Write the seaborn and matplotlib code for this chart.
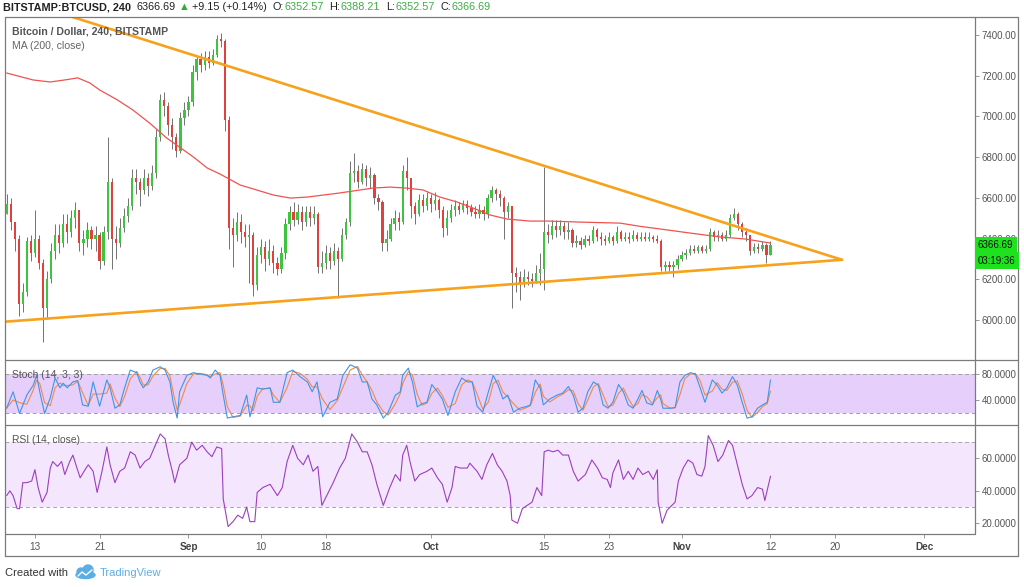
import numpy as np
import pandas as pd
import matplotlib
matplotlib.use("Agg")
import matplotlib.pyplot as plt
import matplotlib.transforms as mtransforms
from matplotlib.lines import Line2D
from matplotlib.patches import Ellipse, Circle
import seaborn as sns

# ---------------- DATA ----------------
# 12-hour candles, days counted from 13 Aug 2018; first candle 9 Aug 12:00
start_day = -3.5
first_open = 6520
close = [6570, 6480, 6400, 6080, 6140, 6390, 6330, 6400, 6280, 6060,
         6200, 6340, 6420, 6380, 6470, 6430, 6500, 6540, 6380, 6400,
         6440, 6400, 6420, 6290, 6430, 6680, 6400, 6380, 6450, 6510,
         6560, 6700, 6680, 6640, 6700, 6660, 6720, 6900, 7080, 7050,
         6960, 6900, 6830, 6990, 7030, 7070, 7220, 7280, 7250, 7290,
         7260, 7300, 7380, 7370, 6980, 6450, 6420, 6480, 6430, 6410,
         6420, 6170, 6320, 6360, 6300, 6340, 6280, 6250, 6330, 6470,
         6530, 6490, 6530, 6480, 6530, 6500, 6520, 6260, 6280, 6330,
         6290, 6340, 6300, 6420, 6480, 6720, 6730, 6680, 6740, 6700,
         6710, 6600, 6580, 6380, 6400, 6470, 6500, 6480, 6730, 6700,
         6560, 6520, 6590, 6560, 6600, 6570, 6590, 6540, 6450, 6500,
         6540, 6560, 6540, 6570, 6550, 6530, 6520, 6540, 6520, 6600,
         6640, 6620, 6600, 6530, 6560, 6230, 6210, 6180, 6210, 6200,
         6190, 6230, 6250, 6430, 6420, 6460, 6440, 6460, 6430, 6440,
         6380, 6390, 6370, 6400, 6390, 6440, 6410, 6400, 6390, 6410,
         6390, 6430, 6400, 6410, 6400, 6420, 6400, 6410, 6400, 6410,
         6400, 6390, 6260, 6270, 6260, 6270, 6300, 6320, 6330, 6350,
         6340, 6360, 6340, 6350, 6430, 6410, 6420, 6400, 6420, 6500,
         6520, 6470, 6430, 6420, 6340, 6360, 6350, 6370, 6320, 6366.69]
high = [6620, 6600, 6480, 6420, 6180, 6410, 6420, 6540, 6420, 6300,
        6240, 6380, 6470, 6470, 6520, 6520, 6540, 6580, 6540, 6440,
        6480, 6460, 6460, 6430, 6460, 6900, 6700, 6460, 6500, 6550,
        6600, 6740, 6740, 6700, 6740, 6720, 6760, 6940, 7110, 7120,
        7070, 6990, 6920, 7020, 7070, 7100, 7250, 7300, 7310, 7320,
        7320, 7330, 7400, 7410, 7380, 7000, 6500, 6530, 6520, 6470,
        6470, 6430, 6360, 6400, 6390, 6400, 6370, 6310, 6360, 6500,
        6560, 6580, 6570, 6560, 6560, 6560, 6560, 6530, 6340, 6370,
        6360, 6380, 6360, 6450, 6500, 6780, 6820, 6760, 6770, 6760,
        6750, 6720, 6620, 6590, 6440, 6500, 6540, 6530, 6760, 6800,
        6700, 6580, 6620, 6620, 6630, 6620, 6630, 6600, 6560, 6540,
        6570, 6590, 6580, 6590, 6590, 6570, 6560, 6570, 6560, 6620,
        6660, 6650, 6640, 6610, 6580, 6560, 6260, 6240, 6250, 6240,
        6230, 6270, 6330, 6750, 6470, 6490, 6490, 6490, 6480, 6480,
        6450, 6420, 6410, 6420, 6420, 6460, 6450, 6430, 6420, 6430,
        6420, 6460, 6440, 6430, 6430, 6440, 6430, 6430, 6430, 6430,
        6420, 6420, 6400, 6290, 6290, 6290, 6320, 6340, 6350, 6370,
        6370, 6370, 6370, 6370, 6450, 6440, 6440, 6430, 6440, 6520,
        6550, 6530, 6480, 6450, 6420, 6380, 6380, 6390, 6380, 6388.21]
low = [6520, 6440, 6340, 6020, 6040, 6120, 6290, 6310, 6250, 5890,
       6010, 6180, 6300, 6330, 6360, 6380, 6410, 6450, 6340, 6320,
       6360, 6350, 6340, 6250, 6270, 6400, 6250, 6300, 6360, 6430,
       6480, 6540, 6620, 6560, 6620, 6610, 6640, 6700, 6880, 7000,
       6910, 6840, 6800, 6820, 6960, 7000, 7050, 7180, 7220, 7230,
       7240, 7250, 7290, 7340, 6930, 6350, 6260, 6390, 6380, 6360,
       6180, 6120, 6150, 6280, 6240, 6270, 6230, 6220, 6230, 6300,
       6440, 6460, 6470, 6440, 6460, 6460, 6470, 6230, 6230, 6250,
       6250, 6270, 6110, 6290, 6400, 6460, 6680, 6650, 6670, 6660,
       6650, 6570, 6540, 6340, 6340, 6390, 6440, 6440, 6470, 6640,
       6500, 6470, 6510, 6530, 6540, 6530, 6540, 6500, 6410, 6420,
       6480, 6510, 6520, 6530, 6520, 6510, 6500, 6500, 6490, 6500,
       6580, 6590, 6560, 6400, 6500, 6060, 6140, 6100, 6160, 6170,
       6160, 6180, 6170, 6150, 6380, 6400, 6410, 6420, 6400, 6400,
       6360, 6360, 6350, 6360, 6370, 6380, 6390, 6370, 6370, 6380,
       6370, 6380, 6390, 6390, 6380, 6390, 6390, 6390, 6390, 6390,
       6385, 6380, 6240, 6240, 6240, 6210, 6250, 6290, 6300, 6320,
       6330, 6330, 6330, 6330, 6340, 6390, 6390, 6390, 6390, 6410,
       6490, 6440, 6410, 6390, 6320, 6330, 6330, 6340, 6280, 6352.57]

# MA (200, close)
ma_day = [-3.5, -0.25, 1.9, 3.7, 5.3, 6.8, 8.0, 10.2, 12.1, 14.2, 16.3, 19.6, 21.3,
          22.9, 25.4, 29.5, 31.6, 33.7, 37.7, 41.8, 43.9, 46.0, 48.0, 50.1, 52.2,
          54.2, 56.3, 58.4, 61.3, 63.7, 67.5, 72.4, 74.9, 77.4, 81.1, 84.8, 87.9, 91.0]
ma_val = [7213, 7179, 7169, 7179, 7189, 7164, 7130, 7081, 7032, 6967, 6894, 6801, 6747,
          6717, 6663, 6614, 6599, 6604, 6624, 6648, 6653, 6648, 6639, 6604, 6580,
          6550, 6516, 6496, 6486, 6486, 6481, 6476, 6460, 6447, 6427, 6408, 6398, 6378]

# triangle trend lines (day, price)
upper_tl_day = [2.0, 99.84]
upper_tl_price = [7521, 6296]
lower_tl_day = [-3.71, 99.84]
lower_tl_price = [5992, 6296]

# Stoch (14, 3, 3) %K
stoch_day = [-3.5, -2.7, -1.9, -1.0, -0.2, 0.2, 0.6, 1.2, 1.9, 2.5,
             3.1, 3.5, 4.0, 4.7, 5.3, 5.9, 6.6, 7.2, 8.0, 8.9,
             9.3, 9.9, 10.5, 11.1, 11.8, 12.6, 13.0, 13.4, 14.0, 14.6,
             15.5, 16.1, 16.7, 17.1, 17.6, 17.9, 18.8, 19.6, 20.4, 21.3,
             21.7, 22.3, 22.9, 23.3, 23.8, 24.5, 25.4, 26.2, 26.6, 27.0,
             27.5, 28.2, 29.1, 29.5, 30.3, 31.2, 31.9, 32.8, 33.7, 34.3,
             34.9, 35.6, 36.5, 37.4, 38.1, 39.0, 39.9, 40.5, 41.1, 41.7,
             42.3, 43.1, 43.7, 44.6, 45.2, 45.5, 46.2, 46.7, 47.3, 47.9,
             48.5, 49.1, 49.8, 50.4, 51.1, 52.0, 52.8, 53.5, 54.1, 54.7,
             55.4, 56.1, 56.7, 57.3, 57.9, 58.5, 59.2, 60.0, 60.9, 61.3,
             61.9, 62.5, 62.9, 63.7, 64.6, 65.3, 66.0, 66.6, 67.2, 67.8,
             68.4, 69.1, 69.7, 70.3, 70.9, 71.5, 72.2, 72.8, 73.4, 74.0,
             74.6, 75.1, 75.7, 76.4, 77.0, 77.4, 77.7, 78.6, 79.2, 79.8,
             80.4, 81.1, 81.7, 82.3, 82.9, 83.8, 84.4, 85.0, 85.6, 86.3,
             86.9, 87.5, 88.1, 88.7, 89.4, 90.0, 90.6, 91.0]
stoch_k = [28, 53, 20, 48, 63, 78, 53, 20, 44, 74,
           59, 66, 59, 68, 70, 33, 31, 68, 31, 71,
           59, 28, 33, 59, 86, 82, 68, 59, 68, 86,
           91, 86, 68, 37, 13, 53, 78, 82, 80, 78,
           74, 86, 78, 48, 13, 15, 17, 48, 15, 33,
           59, 57, 59, 37, 37, 82, 86, 76, 68, 53,
           68, 15, 37, 42, 78, 94, 89, 68, 68, 42,
           33, 13, 22, 48, 53, 78, 89, 68, 30, 35,
           37, 64, 53, 42, 17, 53, 74, 68, 68, 31,
           22, 53, 78, 63, 42, 48, 22, 28, 31, 33,
           71, 59, 33, 42, 48, 51, 61, 48, 22, 28,
           53, 68, 63, 33, 28, 37, 64, 53, 33, 28,
           42, 55, 36, 33, 55, 42, 28, 28, 29, 68,
           78, 82, 80, 59, 37, 71, 63, 51, 59, 76,
           63, 37, 13, 15, 28, 33, 37, 71]

# RSI (14, close)
rsi_day = [-3.5, -3.1, -2.7, -2.2, -1.9, -1.5, -1.0, -0.4, 0.0, 0.4,
           0.9, 1.5, 1.9, 2.2, 2.8, 3.3, 3.7, 4.3, 4.7, 5.2,
           5.6, 6.2, 6.6, 7.2, 7.7, 8.3, 8.9, 9.3, 9.9, 10.5,
           11.1, 11.8, 12.4, 13.0, 13.6, 14.2, 14.9, 15.5, 16.1, 16.5,
           17.0, 17.3, 17.9, 18.8, 19.4, 20.0, 20.7, 21.3, 21.9, 22.5,
           23.1, 23.3, 23.9, 24.5, 25.1, 25.7, 26.2, 26.6, 27.2, 27.5,
           28.2, 29.1, 30.0, 30.6, 31.2, 31.9, 32.5, 33.2, 33.8, 34.4,
           35.0, 35.5, 36.1, 36.9, 37.7, 38.4, 39.2, 39.9, 40.5, 41.1,
           41.7, 42.3, 43.1, 43.9, 44.6, 45.2, 45.5, 46.0, 46.4, 47.0,
           47.6, 48.5, 49.1, 49.8, 50.4, 51.0, 51.6, 52.0, 52.6, 53.5,
           53.8, 54.7, 55.3, 55.9, 56.6, 57.2, 57.8, 58.4, 58.8, 59.0,
           59.7, 60.3, 60.9, 61.5, 62.1, 62.7, 63.0, 63.5, 64.1, 64.7,
           65.3, 66.0, 66.6, 67.2, 68.1, 68.9, 69.6, 70.2, 70.8, 71.2,
           71.5, 72.2, 72.8, 73.4, 74.0, 74.6, 75.2, 75.9, 76.5, 77.0,
           77.1, 77.6, 78.2, 78.8, 79.2, 79.6, 80.2, 80.8, 81.4, 81.9,
           82.5, 82.9, 83.3, 83.9, 84.5, 85.1, 85.8, 86.3, 86.9, 87.5,
           88.1, 88.7, 89.4, 90.0, 90.3, 91.0]
rsi_val = [37, 40, 37, 29, 29, 45, 45, 46, 53, 42,
           33, 39, 54, 58, 55, 58, 50, 58, 62, 54,
           48, 53, 56, 52, 39, 52, 67, 56, 45, 52,
           54, 64, 62, 54, 58, 60, 68, 75, 72, 62,
           52, 45, 56, 60, 70, 65, 68, 64, 61, 67,
           66, 35, 18, 21, 25, 23, 30, 21, 21, 39,
           42, 44, 37, 42, 58, 68, 60, 56, 62, 52,
           55, 31, 37, 45, 54, 60, 75, 70, 64, 64,
           56, 44, 31, 42, 50, 46, 62, 68, 58, 46,
           50, 52, 54, 48, 44, 33, 42, 55, 54, 54,
           57, 52, 47, 56, 63, 56, 52, 46, 37, 22,
           20, 29, 31, 33, 42, 37, 64, 65, 64, 65,
           62, 62, 52, 46, 50, 59, 54, 48, 47, 42,
           51, 59, 47, 52, 47, 54, 50, 52, 47, 53,
           33, 20, 28, 31, 33, 46, 54, 59, 57, 50,
           49, 55, 74, 68, 58, 62, 71, 68, 56, 44,
           35, 37, 42, 41, 34, 49]

price_ticks = [6000, 6200, 6400, 6600, 6800, 7000, 7200, 7400]
stoch_ticks = [40, 80]
rsi_ticks = [20, 40, 60]
date_tick_days = [0, 8, 19, 28, 36, 49, 63, 71, 80, 91, 99, 110]
date_tick_labels = ["13", "21", "Sep", "10", "18", "Oct", "15", "23", "Nov", "12", "20", "Dec"]
month_labels = ["Sep", "Oct", "Nov", "Dec"]
header_change = "+9.15 (+0.14%)"
header_open, header_high, header_low = 6352.57, 6388.21, 6352.57
countdown = "03:19:36"

# ---------------- STYLE ----------------
sns.set_theme(style="white")
plt.rcParams["font.family"] = ["Liberation Sans", "DejaVu Sans"]

W, H = 1024, 587
fig = plt.figure(figsize=(W / 100, H / 100), dpi=100)
fig.patch.set_facecolor("white")


def fx(x):
    return x / W


def fy(y):
    return 1 - y / H


XL, XR = 5, 975
ax_main = fig.add_axes([fx(XL), fy(360), fx(XR) - fx(XL), fy(17) - fy(360)])
ax_st = fig.add_axes([fx(XL), fy(425), fx(XR) - fx(XL), fy(360) - fy(425)])
ax_rsi = fig.add_axes([fx(XL), fy(534), fx(XR) - fx(XL), fy(425) - fy(534)])

GRAY_TXT = "#555555"
for ax in (ax_main, ax_st, ax_rsi):
    ax.set_facecolor("white")
    ax.set_xlim(-3.7, 116.3)
    for s in ax.spines.values():
        s.set_visible(False)
    ax.yaxis.tick_right()
    ax.tick_params(axis="y", which="both", right=True, left=False, length=3,
                   width=0.6, color="#888888", labelsize=7, labelcolor=GRAY_TXT, pad=2)
    ax.grid(False)

# ---------------- MAIN: candles ----------------
c = np.array(close, dtype=float)
o = np.concatenate([[first_open], c[:-1]])
h = np.maximum(np.array(high, dtype=float), np.maximum(o, c))
l = np.minimum(np.array(low, dtype=float), np.minimum(o, c))
t = start_day + 0.5 * np.arange(len(c))
up = c >= o
body_col = np.where(up, "#3fc43f", "#e2403a")
body_h = np.maximum(np.abs(c - o), 4)
ax_main.vlines(t, l, h, color="#5c5c5c", lw=0.6, zorder=2)
ax_main.bar(t, body_h, bottom=np.minimum(o, c), width=0.28, color=body_col,
            linewidth=0, zorder=3)

sns.lineplot(x=ma_day, y=ma_val, ax=ax_main, color="#ef5350", lw=0.9,
             sort=False, estimator=None, zorder=4)
sns.lineplot(x=upper_tl_day, y=upper_tl_price, ax=ax_main, color="#f7a21c",
             lw=1.9, sort=False, estimator=None, zorder=5)
sns.lineplot(x=lower_tl_day, y=lower_tl_price, ax=ax_main, color="#f7a21c",
             lw=1.9, sort=False, estimator=None, zorder=5)

ax_main.set_ylim(5804, 7488)
ax_main.set_yticks(price_ticks)
ax_main.set_yticklabels([f"{v:.2f}" for v in price_ticks])
ax_main.set_xticks([])
ax_main.set_xlabel("")
ax_main.set_ylabel("")

# ---------------- STOCH ----------------
ax_st.axhspan(20, 80, color="#e7cffb", lw=0, zorder=0)
for lev in (20, 80):
    ax_st.axhline(lev, color="#9e9e9e", lw=0.7, ls=(0, (4, 3)), zorder=1)
stoch_d = pd.Series(stoch_k, dtype=float).rolling(2, min_periods=1).mean()
sns.lineplot(x=stoch_day, y=stoch_k, ax=ax_st, color="#3d95e6", lw=0.8,
             sort=False, estimator=None, zorder=3)
sns.lineplot(x=stoch_day, y=stoch_d.values, ax=ax_st, color="#f08a4b", lw=0.8,
             sort=False, estimator=None, zorder=2)
ax_st.set_ylim(2.5, 101.3)
ax_st.set_yticks(stoch_ticks)
ax_st.set_yticklabels([f"{v:.4f}" for v in stoch_ticks])
ax_st.set_xticks([])
ax_st.set_xlabel("")
ax_st.set_ylabel("")

# ---------------- RSI ----------------
ax_rsi.axhspan(30, 70, color="#f4e6fd", lw=0, zorder=0)
for lev in (30, 70):
    ax_rsi.axhline(lev, color="#a8a8a8", lw=0.7, ls=(0, (4, 3)), zorder=1)
sns.lineplot(x=rsi_day, y=rsi_val, ax=ax_rsi, color="#9c3fbf", lw=0.8,
             sort=False, estimator=None, zorder=3)
ax_rsi.set_ylim(13.4, 80.5)
ax_rsi.set_yticks(rsi_ticks)
ax_rsi.set_yticklabels([f"{v:.4f}" for v in rsi_ticks])
ax_rsi.set_xticks(date_tick_days)
ax_rsi.set_xticklabels(date_tick_labels)
ax_rsi.tick_params(axis="x", bottom=True, length=3, width=0.6, color="#888888",
                   labelsize=7.2, labelcolor=GRAY_TXT, pad=3)
for lab in ax_rsi.get_xticklabels():
    if lab.get_text() in month_labels:
        lab.set_fontweight("bold")
        lab.set_color("#444444")
ax_rsi.set_xlabel("")
ax_rsi.set_ylabel("")

# ---------------- FRAME ----------------
FR = "#7b7b7b"


def fline(x0, y0, x1, y1, lw=0.9):
    fig.add_artist(Line2D([fx(x0), fx(x1)], [fy(y0), fy(y1)], transform=fig.transFigure,
                          color=FR, lw=lw, zorder=6))


fline(5, 17, 1018, 17)
fline(5, 17, 5, 556)
fline(1018, 17, 1018, 556)
fline(5, 556, 1018, 556)
fline(5, 360, 1018, 360)
fline(5, 425, 1018, 425)
fline(5, 534, 975, 534)
fline(975, 17, 975, 534)

# ---------------- LABELS ----------------
fig.text(fx(12), fy(31), "Bitcoin / Dollar, 240, BITSTAMP", fontsize=7.6, fontweight="bold",
         color=GRAY_TXT, va="center", ha="left")
fig.text(fx(12), fy(46), "MA (200, close)", fontsize=7.6, color="#666666", va="center", ha="left")
fig.text(fx(12), fy(375), "Stoch (14, 3, 3)", fontsize=7.5, color=GRAY_TXT, va="center", ha="left")
fig.text(fx(12), fy(440), "RSI (14, close)", fontsize=7.4, color=GRAY_TXT, va="center", ha="left")

# header line
green = "#3cae43"
HS = 7.8
pieces = [("BITSTAMP:BTCUSD, 240", "#222222", "bold", 0),
          (f"{close[-1]:.2f}", "#222222", "normal", 4),
          ("\u25B2", "#2fae2f", "normal", 2),
          (header_change, "#222222", "normal", 2),
          ("O:", "#222222", "normal", 4),
          (f"{header_open:.2f}", green, "normal", 0.4),
          ("H:", "#222222", "normal", 4),
          (f"{header_high:.2f}", green, "normal", 0.4),
          ("L:", "#222222", "normal", 4),
          (f"{header_low:.2f}", green, "normal", 0.4),
          ("C:", "#222222", "normal", 4),
          (f"{close[-1]:.2f}", green, "normal", 0.4)]
prev = None
for txt, col, wt, gap in pieces:
    if prev is None:
        prev = fig.text(fx(3), fy(12.5), txt, fontsize=HS, color=col, fontweight=wt,
                        ha="left", va="bottom")
    else:
        prev = ax_main.annotate(txt, xy=(1, 0), xycoords=prev, xytext=(gap, 0),
                                textcoords="offset points", fontsize=HS, color=col,
                                fontweight=wt, ha="left", va="bottom", annotation_clip=False)

# last price / countdown box on the price scale
blend = mtransforms.blended_transform_factory(fig.transFigure, ax_main.transData)
fig.text(fx(978), close[-1], f"{close[-1]:.2f}", transform=blend, fontsize=7, color="#111111",
         ha="left", va="center", zorder=10,
         bbox=dict(boxstyle="square,pad=0.35", fc="#1fe21f", ec="none"))
fig.text(fx(978), close[-1] - 75, countdown, transform=blend, fontsize=7, color="#111111",
         ha="left", va="center", zorder=10,
         bbox=dict(boxstyle="square,pad=0.35", fc="#1fe21f", ec="none"))

# footer
fig.text(fx(5), fy(573), "Created with", fontsize=8, color="#333333", va="center", ha="left")
inch = fig.dpi_scale_trans
logo_col = "#5aaee6"
fig.add_artist(Ellipse((85.5 / 100, (H - 575) / 100), 0.19, 0.07, transform=inch,
                       color=logo_col, zorder=5))
fig.add_artist(Circle((81 / 100, (H - 572) / 100), 0.04, transform=inch, color=logo_col, zorder=5))
fig.add_artist(Circle((88 / 100, (H - 570) / 100), 0.05, transform=inch, color=logo_col, zorder=5))
fig.add_artist(Line2D([78 / 100, 82 / 100, 86 / 100, 92 / 100],
                      [(H - 576) / 100, (H - 572) / 100, (H - 575) / 100, (H - 570) / 100],
                      transform=inch, color="white", lw=1.0, zorder=6))
fig.text(fx(100), fy(573), "TradingView", fontsize=8, color=logo_col, va="center", ha="left")

fig.savefig("out.png", dpi=100, facecolor="white")
